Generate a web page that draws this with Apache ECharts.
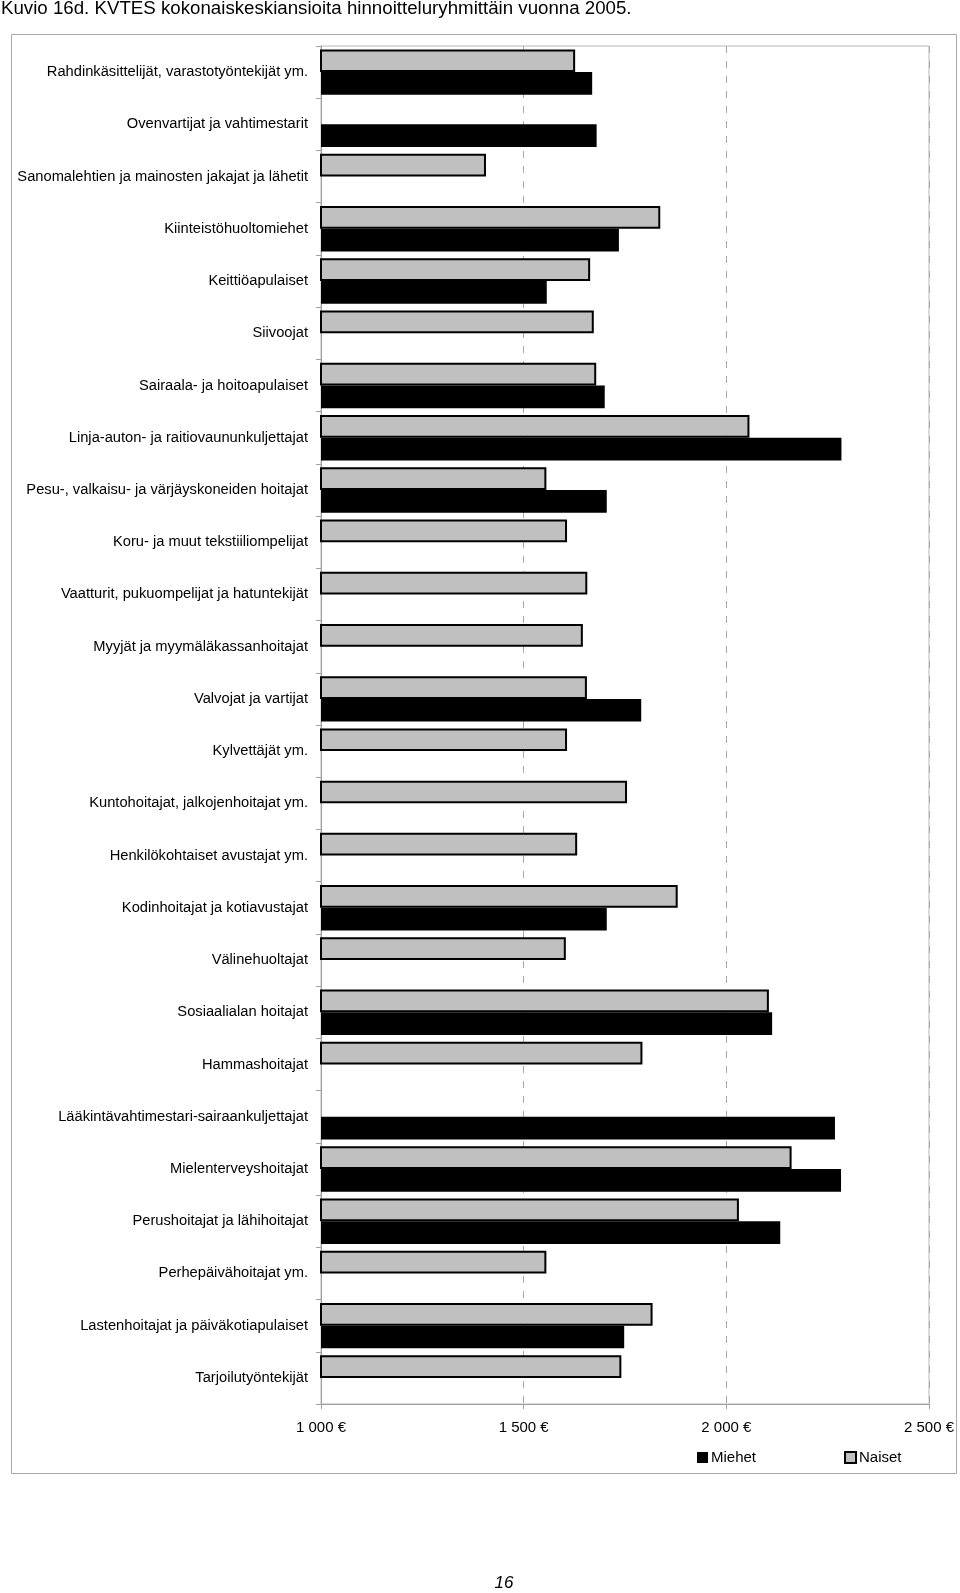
<!DOCTYPE html>
<html>
<head>
<meta charset="utf-8">
<script src="https://cdn.jsdelivr.net/npm/echarts@6/dist/echarts.min.js"></script>
<style>
html,body{margin:0;padding:0;background:#fff;}
#chart{width:960px;height:1593px;}
</style>
</head>
<body>
<div id="chart"></div>
<script>
const categories = [
  "Rahdinkäsittelijät, varastotyöntekijät ym.",
  "Ovenvartijat ja vahtimestarit",
  "Sanomalehtien ja mainosten jakajat ja lähetit",
  "Kiinteistöhuoltomiehet",
  "Keittiöapulaiset",
  "Siivoojat",
  "Sairaala- ja hoitoapulaiset",
  "Linja-auton- ja raitiovaununkuljettajat",
  "Pesu-, valkaisu- ja värjäyskoneiden hoitajat",
  "Koru- ja muut tekstiiliompelijat",
  "Vaatturit, pukuompelijat ja hatuntekijät",
  "Myyjät ja myymäläkassanhoitajat",
  "Valvojat ja vartijat",
  "Kylvettäjät ym.",
  "Kuntohoitajat, jalkojenhoitajat ym.",
  "Henkilökohtaiset avustajat ym.",
  "Kodinhoitajat ja kotiavustajat",
  "Välinehuoltajat",
  "Sosiaalialan hoitajat",
  "Hammashoitajat",
  "Lääkintävahtimestari-sairaankuljettajat",
  "Mielenterveyshoitajat",
  "Perushoitajat ja lähihoitajat",
  "Perhepäivähoitajat ym.",
  "Lastenhoitajat ja päiväkotiapulaiset",
  "Tarjoilutyöntekijät"
];
const naiset = [1627, null, 1407, 1837, 1664, 1673, 1679, 2057, 1556, 1607, 1657, 1646, 1656, 1607, 1755, 1632, 1880, 1604, 2105, 1793, null, 2161, 2031, 1556, 1818, 1741];
const miehet = [1669, 1680, null, 1735, 1557, null, 1700, 2284, 1705, null, null, null, 1790, null, null, null, 1705, null, 2113, null, 2268, 2283, 2133, null, 1748, null];
const xTickValues = [1000, 1500, 2000, 2500];
const xTickLabels = ["1 000 €", "1 500 €", "2 000 €", "2 500 €"];
const titleText = "Kuvio 16d. KVTES kokonaiskeskiansioita hinnoitteluryhmittäin vuonna 2005.";
const pageNumber = "16";
const seriesNames = ["Miehet", "Naiset"];

const FONT = "'Liberation Sans', Arial, Helvetica, sans-serif";
const chart = echarts.init(document.getElementById('chart'), null, {renderer: 'canvas'});

chart.setOption({
  backgroundColor: '#fff',
  animation: false,
  textStyle: {fontFamily: FONT, color: '#000'},
  title: {
    text: titleText,
    left: 1, top: -1, padding: 0,
    textStyle: {fontFamily: FONT, fontSize: 18.7, fontWeight: 'normal', color: '#000'}
  },
  graphic: [
    {type: 'rect', shape: {x: 11.5, y: 34.5, width: 945, height: 1439}, style: {fill: 'none', stroke: '#a8a8a8', lineWidth: 1}, z: -1},
    {type: 'text', x: 504, y: 1583, style: {text: pageNumber, font: 'italic 17px ' + FONT, fill: '#000', align: 'center', verticalAlign: 'middle'}}
  ],
  legend: {
    left: 697, top: 1450, padding: 0,
    itemWidth: 11, itemHeight: 11, itemGap: 88,
    icon: 'rect',
    textStyle: {fontFamily: FONT, fontSize: 15, color: '#000', padding: [0,0,0,-2]},
    data: [
      {name: seriesNames[0], itemStyle: {color: '#000', borderWidth: 0}},
      {name: seriesNames[1], itemStyle: {color: '#c0c0c0', borderColor: '#000', borderWidth: 2}}
    ]
  },
  grid: {
    left: 321, right: 31, top: 46, bottom: 189,
    show: true, borderColor: '#b8b8b8', borderWidth: 1, containLabel: false
  },
  xAxis: {
    type: 'value', min: 1000, max: 2500, interval: 500,
    axisLine: {show: true, lineStyle: {color: '#a0a0a0', width: 1}},
    axisTick: {show: true, length: 5, lineStyle: {color: '#a0a0a0'}},
    axisLabel: {
      fontFamily: FONT, fontSize: 15, color: '#000', margin: 16,
      formatter: function (v) { const i = xTickValues.indexOf(v); return i >= 0 ? xTickLabels[i] : ''; }
    },
    splitLine: {show: true, lineStyle: {color: '#a8a8a8', width: 1, type: [7, 8]}}
  },
  yAxis: {
    type: 'category', data: categories, inverse: true,
    axisLine: {show: true, lineStyle: {color: '#a0a0a0', width: 1}},
    axisTick: {show: true, length: 5, lineStyle: {color: '#a0a0a0'}},
    axisLabel: {fontFamily: FONT, fontSize: 14.7, color: '#000', margin: 13, interval: 0}
  },
  series: [
    {
      name: seriesNames[1], type: 'bar', data: naiset,
      barGap: '0%', barCategoryGap: '13%',
      itemStyle: {color: '#c0c0c0', borderColor: '#000', borderWidth: 2}
    },
    {
      name: seriesNames[0], type: 'bar', data: miehet,
      barGap: '0%', barCategoryGap: '13%',
      itemStyle: {color: '#000'}
    }
  ]
});
</script>
</body>
</html>
